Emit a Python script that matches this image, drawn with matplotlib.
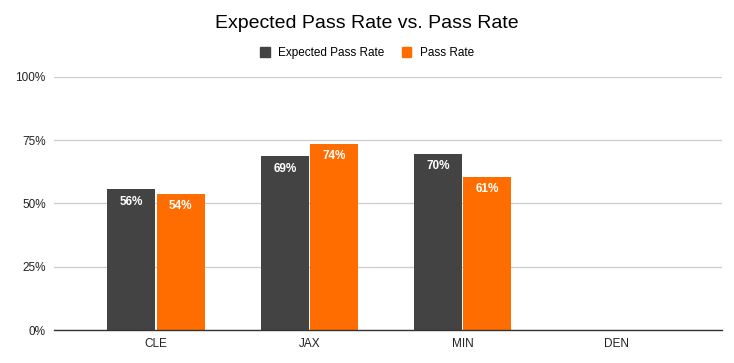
import numpy as np
import matplotlib
matplotlib.use("Agg")
import matplotlib.pyplot as plt
from matplotlib.patches import Patch

plt.rcParams["font.family"] = ["Liberation Sans", "DejaVu Sans"]

teams = ["CLE", "JAX", "MIN", "DEN"]
expected_pass_rate = [0.556, 0.686, 0.696, np.nan]
pass_rate = [0.538, 0.737, 0.606, np.nan]
y_ticks = [0, 0.25, 0.5, 0.75, 1.0]

dark = "#434343"
orange = "#ff6d01"

fig = plt.figure(figsize=(7.34, 3.63), dpi=100)
ax = fig.add_axes([0.0736, 0.0909, 0.910, 0.697])

x = np.arange(len(teams))
w = 0.313
off = 0.16

bars1 = ax.bar(x - off, expected_pass_rate, w, color=dark, zorder=3)
bars2 = ax.bar(x + off, pass_rate, w, color=orange, zorder=3)

for bars, vals in [(bars1, expected_pass_rate), (bars2, pass_rate)]:
    for b, v in zip(bars, vals):
        if np.isnan(v):
            continue
        ax.text(b.get_x() + b.get_width() / 2, v - 0.025, f"{round(v * 100)}%",
                ha="center", va="top", color="white", fontsize=8.5,
                fontweight="bold", zorder=4)

ax.set_xlim(-0.665, 3.69)
ax.set_ylim(0, 1)
ax.set_yticks(y_ticks)
ax.set_yticklabels([f"{int(t * 100)}%" for t in y_ticks])
ax.set_xticks(x)
ax.set_xticklabels(teams)
ax.tick_params(axis="both", length=0, labelsize=8.5, colors="#222222")
ax.tick_params(axis="y", pad=6)
ax.tick_params(axis="x", pad=6)

ax.grid(axis="y", color="#cccccc", linewidth=0.9, zorder=0)
for s in ["top", "right", "left"]:
    ax.spines[s].set_visible(False)
ax.spines["bottom"].set_color("#333333")
ax.spines["bottom"].set_linewidth(1.0)
ax.spines["bottom"].set_zorder(5)

fig.text(0.5, 1 - 24 / 363, "Expected Pass Rate vs. Pass Rate",
         ha="center", va="center", fontsize=14, color="#000000")

handles = [Patch(color=dark, label="Expected Pass Rate"),
           Patch(color=orange, label="Pass Rate")]
fig.legend(handles=handles, loc="center", bbox_to_anchor=(0.5, 1 - 53 / 363),
           ncol=2, frameon=False, fontsize=8.5, handlelength=0.8,
           handleheight=1.0, handletextpad=0.7, columnspacing=1.5)

fig.savefig("out.png", dpi=100)
